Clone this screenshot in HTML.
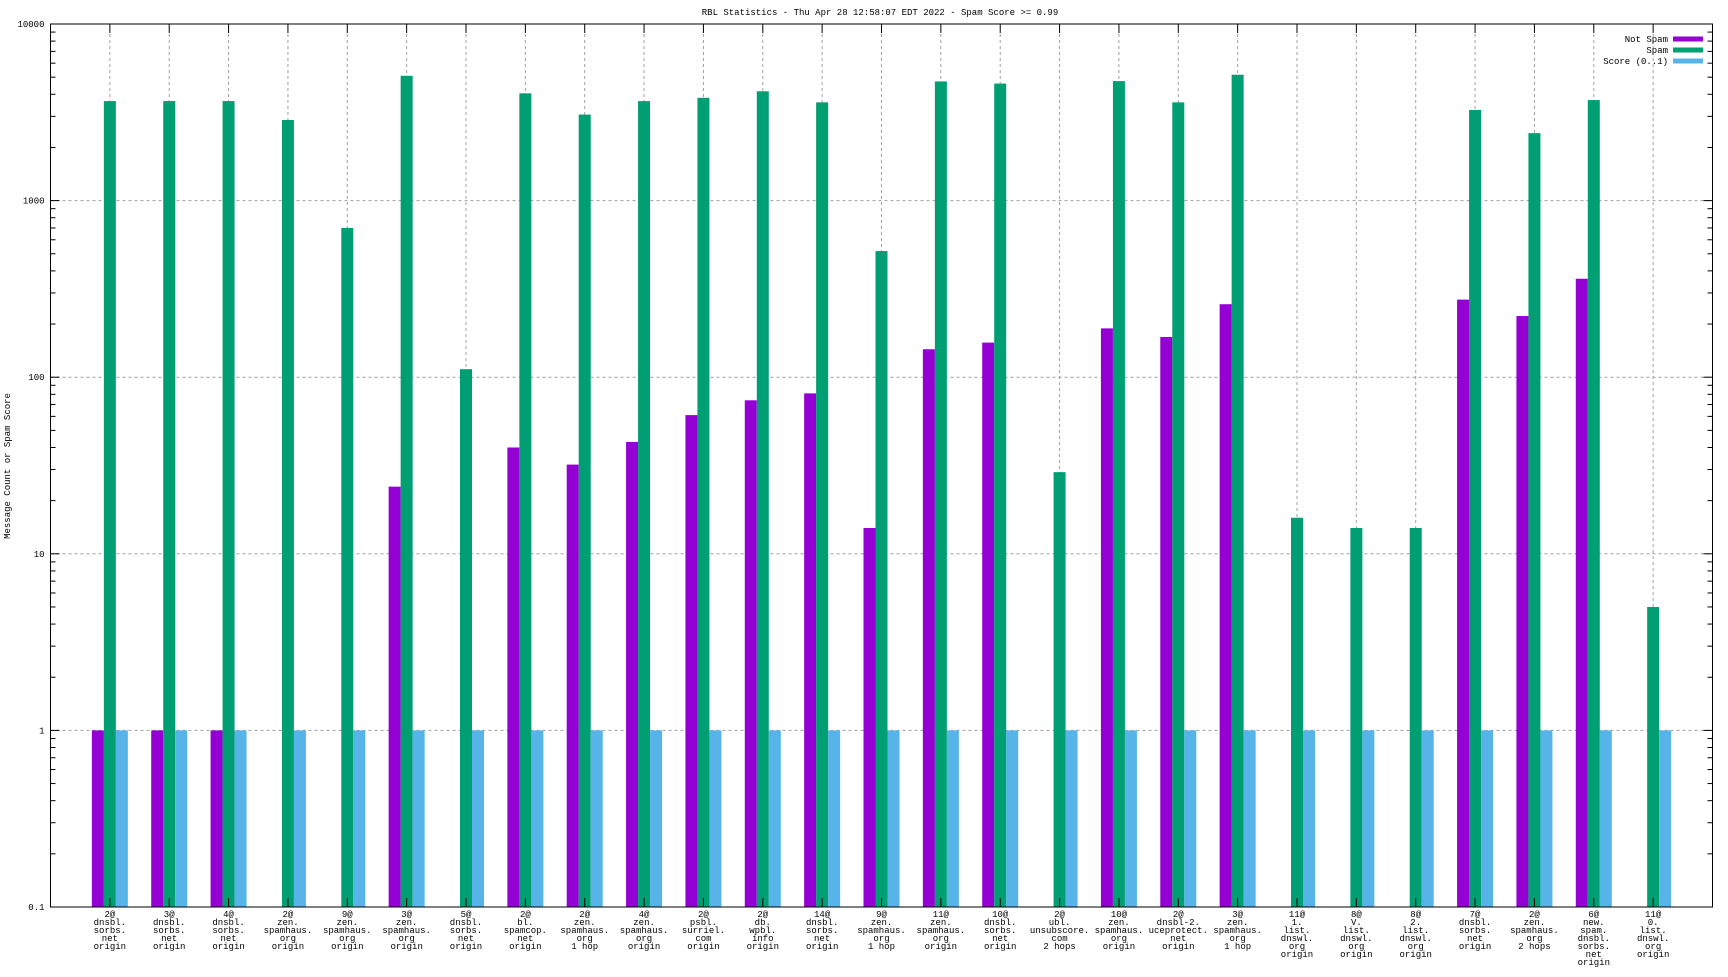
<!DOCTYPE html>
<html><head><meta charset="utf-8"><style>
body{margin:0;background:#fff}
svg text{font-family:"Liberation Mono","DejaVu Sans Mono",monospace;font-size:9px;fill:#000}
</style></head><body>
<svg id="chart" width="1728" height="972" xmlns="http://www.w3.org/2000/svg">
<text x="880" y="15" text-anchor="middle">RBL Statistics - Thu Apr 28 12:58:07 EDT 2022 - Spam Score &gt;= 0.99</text>
<text x="0" y="0" text-anchor="middle" transform="translate(10,466) rotate(-90)">Message Count or Spam Score</text>
<g id="grid"></g><g id="bars"></g><g id="axes"></g><g id="legend"></g>
</svg>
<script>
const categories=[
["2@","dnsbl.","sorbs.","net","origin"],["3@","dnsbl.","sorbs.","net","origin"],["4@","dnsbl.","sorbs.","net","origin"],
["2@","zen.","spamhaus.","org","origin"],["9@","zen.","spamhaus.","org","origin"],["3@","zen.","spamhaus.","org","origin"],
["5@","dnsbl.","sorbs.","net","origin"],["2@","bl.","spamcop.","net","origin"],["2@","zen.","spamhaus.","org","1 hop"],
["4@","zen.","spamhaus.","org","origin"],["2@","psbl.","surriel.","com","origin"],["2@","db.","wpbl.","info","origin"],
["14@","dnsbl.","sorbs.","net","origin"],["9@","zen.","spamhaus.","org","1 hop"],["11@","zen.","spamhaus.","org","origin"],
["10@","dnsbl.","sorbs.","net","origin"],["2@","ubl.","unsubscore.","com","2 hops"],["10@","zen.","spamhaus.","org","origin"],
["2@","dnsbl-2.","uceprotect.","net","origin"],["3@","zen.","spamhaus.","org","1 hop"],["11@","1.","list.","dnswl.","org","origin"],
["8@","V.","list.","dnswl.","org","origin"],["8@","2.","list.","dnswl.","org","origin"],["7@","dnsbl.","sorbs.","net","origin"],
["2@","zen.","spamhaus.","org","2 hops"],["6@","new.","spam.","dnsbl.","sorbs.","net","origin"],["11@","0.","list.","dnswl.","org","origin"]];
const notSpam=[1,1,1,0,0,24,0,40,32,43,61,74,81,14,144,157,0,189,169,259,0,0,0,275,222,361,0];
const spam=[3660,3660,3660,2860,700,5090,111,4050,3070,3660,3820,4160,3600,518,4730,4600,29,4750,3600,5160,16,14,14,3260,2410,3710,5];
const score=[1,1,1,1,1,1,1,1,1,1,1,1,1,1,1,1,1,1,1,1,1,1,1,1,1,1,1];
const yTicks=[0.1,1,10,100,1000,10000];
const yTickLabels=["0.1","1","10","100","1000","10000"];
const L=50.5,R=1712.5,T=24,B=907;
const NS="http://www.w3.org/2000/svg";
function xs(i){return L+(i+1)*(R-L)/28;}
function ys(v){return B-(Math.log10(v)+1)*(B-T)/5;}
function mk(tag,attrs,parent){const e=document.createElementNS(NS,tag);for(const k in attrs)e.setAttribute(k,attrs[k]);document.getElementById(parent).appendChild(e);return e;}
// grid
yTicks.forEach((v,k)=>{
  if(k>0&&k<yTicks.length-1){const g=mk('line',{x1:L,x2:R,y1:ys(v),y2:ys(v),stroke:'#a0a0a0','stroke-dasharray':'3,3'},'grid');
  
  }
  const t=mk('text',{x:L-6,y:ys(v)+3,'text-anchor':'end'},'axes');t.textContent=yTickLabels[k];
  
  
  mk('line',{x1:L,x2:L+9,y1:ys(v),y2:ys(v),stroke:'#000'},'axes');
  mk('line',{x1:R,x2:R-9,y1:ys(v),y2:ys(v),stroke:'#000'},'axes');
  if(k<yTicks.length-1){for(let m=2;m<10;m++){const yy=ys(v*m);
    mk('line',{x1:L,x2:L+5,y1:yy,y2:yy,stroke:'#000'},'axes');
    mk('line',{x1:R,x2:R-5,y1:yy,y2:yy,stroke:'#000'},'axes');}}
});
const bw=12;
categories.forEach((c,i)=>{
  const x=xs(i);
  const g=mk('line',{x1:x,x2:x,y1:T+10,y2:B,stroke:'#a0a0a0','stroke-dasharray':'3,3'},'grid');
  
  
  mk('line',{x1:x,x2:x,y1:T,y2:T+9,stroke:'#000'},'axes');
  mk('line',{x1:x,x2:x,y1:B,y2:B-9,stroke:'#000'},'axes');
  [[notSpam,'#9400d3',-1,'bar-not-spam'],[spam,'#009e73',0,'bar-spam'],[score,'#56b4e9',1,'bar-score']].forEach(s=>{
    const v=s[0][i]; if(!(v>0.1))return;
    const b=mk('rect',{x:x-bw/2+s[2]*bw,y:ys(v),width:bw,height:B-ys(v),fill:s[1]},'bars');
    
    
  });
  c.forEach((ln,j)=>{const t=mk('text',{x:x,y:917+j*8,'text-anchor':'middle'},'axes');t.textContent=ln;
    
    });
});
const fr=mk('rect',{x:L,y:T,width:R-L,height:B-T,fill:'none',stroke:'#000','stroke-width':1},'axes');


[["Not Spam","#9400d3"],["Spam","#009e73"],["Score (0..1)","#56b4e9"]].forEach((e,k)=>{
  const y=39+k*11;
  const t=mk('text',{x:1668,y:y+3,'text-anchor':'end'},'legend');t.textContent=e[0];
  
  
  const r=mk('rect',{x:1673,y:y-2.5,width:30,height:5,fill:e[1]},'legend');
  
  
});
</script>
</body></html>
